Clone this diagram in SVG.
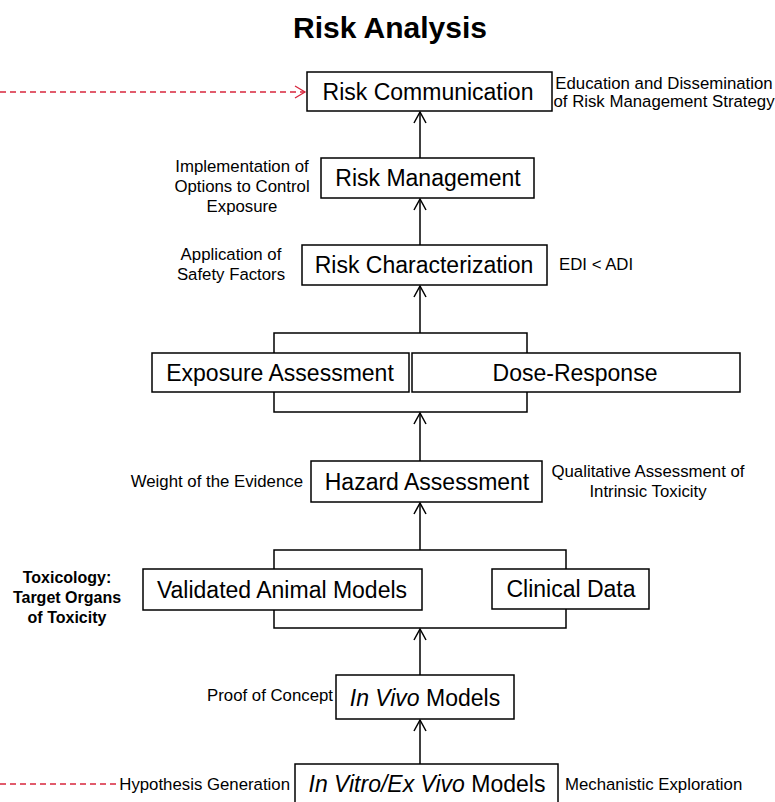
<svg xmlns="http://www.w3.org/2000/svg" width="775" height="802" viewBox="0 0 775 802">
<style>
text{font-family:"Liberation Sans",Arial,sans-serif;fill:#000}
.title{font-size:30px;font-weight:bold;text-anchor:middle}
.lbl{font-size:23px;text-anchor:middle}
.note{font-size:16.8px}
.mid{text-anchor:middle}
.end{text-anchor:end}
.bold{font-weight:bold;font-size:16px}
.box{fill:#fff;stroke:#000;stroke-width:1.5}
.ln{fill:none;stroke:#000;stroke-width:1.5}
.red{fill:none;stroke:#d7263d;stroke-width:1.3;stroke-dasharray:6,4}
</style>
<defs>
<marker id="ah" markerWidth="14" markerHeight="14" refX="12" refY="7" orient="auto" markerUnits="userSpaceOnUse" viewBox="0 0 14 14">
<path d="M1,1 L12,7 L1,13" fill="none" stroke="#000" stroke-width="1.5"/>
</marker>
<marker id="rah" markerWidth="14" markerHeight="14" refX="12" refY="7" orient="auto" markerUnits="userSpaceOnUse" viewBox="0 0 14 14">
<path d="M2,1 L12,7 L2,13" fill="none" stroke="#d7263d" stroke-width="1.3"/>
</marker>
</defs>
<rect width="775" height="802" fill="#fff"/>
<text class="title" x="390" y="38">Risk Analysis</text>

<g id="connectors">
<line class="ln" x1="420" y1="158" x2="420" y2="112" marker-end="url(#ah)"/>
<line class="ln" x1="420" y1="245" x2="420" y2="199" marker-end="url(#ah)"/>
<line class="ln" x1="420" y1="333" x2="420" y2="286" marker-end="url(#ah)"/>
<path class="ln" d="M274,353 V333 H527 V353"/>
<path class="ln" d="M274,392 V412 H527 V392"/>
<line class="ln" x1="420" y1="461" x2="420" y2="413" marker-end="url(#ah)"/>
<line class="ln" x1="420" y1="550" x2="420" y2="503" marker-end="url(#ah)"/>
<path class="ln" d="M274,569 V550 H566 V569"/>
<path class="ln" d="M274,610 V628 H566 V609"/>
<line class="ln" x1="420" y1="675" x2="420" y2="629" marker-end="url(#ah)"/>
<line class="ln" x1="420" y1="764" x2="420" y2="720" marker-end="url(#ah)"/>
<line class="red" x1="0" y1="92" x2="305" y2="92" marker-end="url(#rah)"/>
<line class="red" x1="0" y1="784" x2="118" y2="784"/>
</g>

<g id="risk-communication">
<rect class="box" x="307" y="72" width="245" height="39"/>
<text class="lbl" x="428" y="100">Risk Communication</text>
<text class="note mid" x="664" y="89">Education and Dissemination</text>
<text class="note mid" x="664" y="107">of Risk Management Strategy</text>
</g>

<g id="risk-management">
<rect class="box" x="321" y="158" width="213" height="40"/>
<text class="lbl" x="428" y="186">Risk Management</text>
<text class="note mid" x="242" y="172">Implementation of</text>
<text class="note mid" x="242" y="192">Options to Control</text>
<text class="note mid" x="242" y="212">Exposure</text>
</g>

<g id="risk-characterization">
<rect class="box" x="302" y="245" width="245" height="40"/>
<text class="lbl" x="424" y="273">Risk Characterization</text>
<text class="note mid" x="231" y="260">Application of</text>
<text class="note mid" x="231" y="280">Safety Factors</text>
<text class="note" x="559" y="270">EDI &lt; ADI</text>
</g>

<g id="exposure-assessment">
<rect class="box" x="152" y="353" width="257" height="39"/>
<text class="lbl" x="280" y="381">Exposure Assessment</text>
</g>

<g id="dose-response">
<rect class="box" x="412" y="353" width="328" height="39"/>
<text class="lbl" x="575" y="381">Dose-Response</text>
</g>

<g id="hazard-assessment">
<rect class="box" x="311" y="461" width="231" height="41"/>
<text class="lbl" x="427" y="490">Hazard Assessment</text>
<text class="note end" x="303" y="487">Weight of the Evidence</text>
<text class="note mid" x="648" y="477">Qualitative Assessment of</text>
<text class="note mid" x="648" y="497">Intrinsic Toxicity</text>
</g>

<g id="validated-animal-models">
<rect class="box" x="143" y="569" width="279" height="41"/>
<text class="lbl" x="282" y="598">Validated Animal Models</text>
<text class="bold mid" x="67" y="583">Toxicology:</text>
<text class="bold mid" x="67" y="603">Target Organs</text>
<text class="bold mid" x="67" y="623">of Toxicity</text>
</g>

<g id="clinical-data">
<rect class="box" x="492" y="569" width="157" height="40"/>
<text class="lbl" x="571" y="597">Clinical Data</text>
</g>

<g id="in-vivo-models">
<rect class="box" x="336" y="675" width="178" height="44"/>
<text class="lbl" x="425" y="706"><tspan font-style="italic">In Vivo</tspan> Models</text>
<text class="note end" x="333" y="701">Proof of Concept</text>
</g>

<g id="in-vitro-models">
<rect class="box" x="295" y="764" width="263" height="46"/>
<text class="lbl" x="427" y="792"><tspan font-style="italic">In Vitro/Ex Vivo</tspan> Models</text>
<text class="note end" x="290" y="790">Hypothesis Generation</text>
<text class="note" x="565" y="790">Mechanistic Exploration</text>
</g>
</svg>
